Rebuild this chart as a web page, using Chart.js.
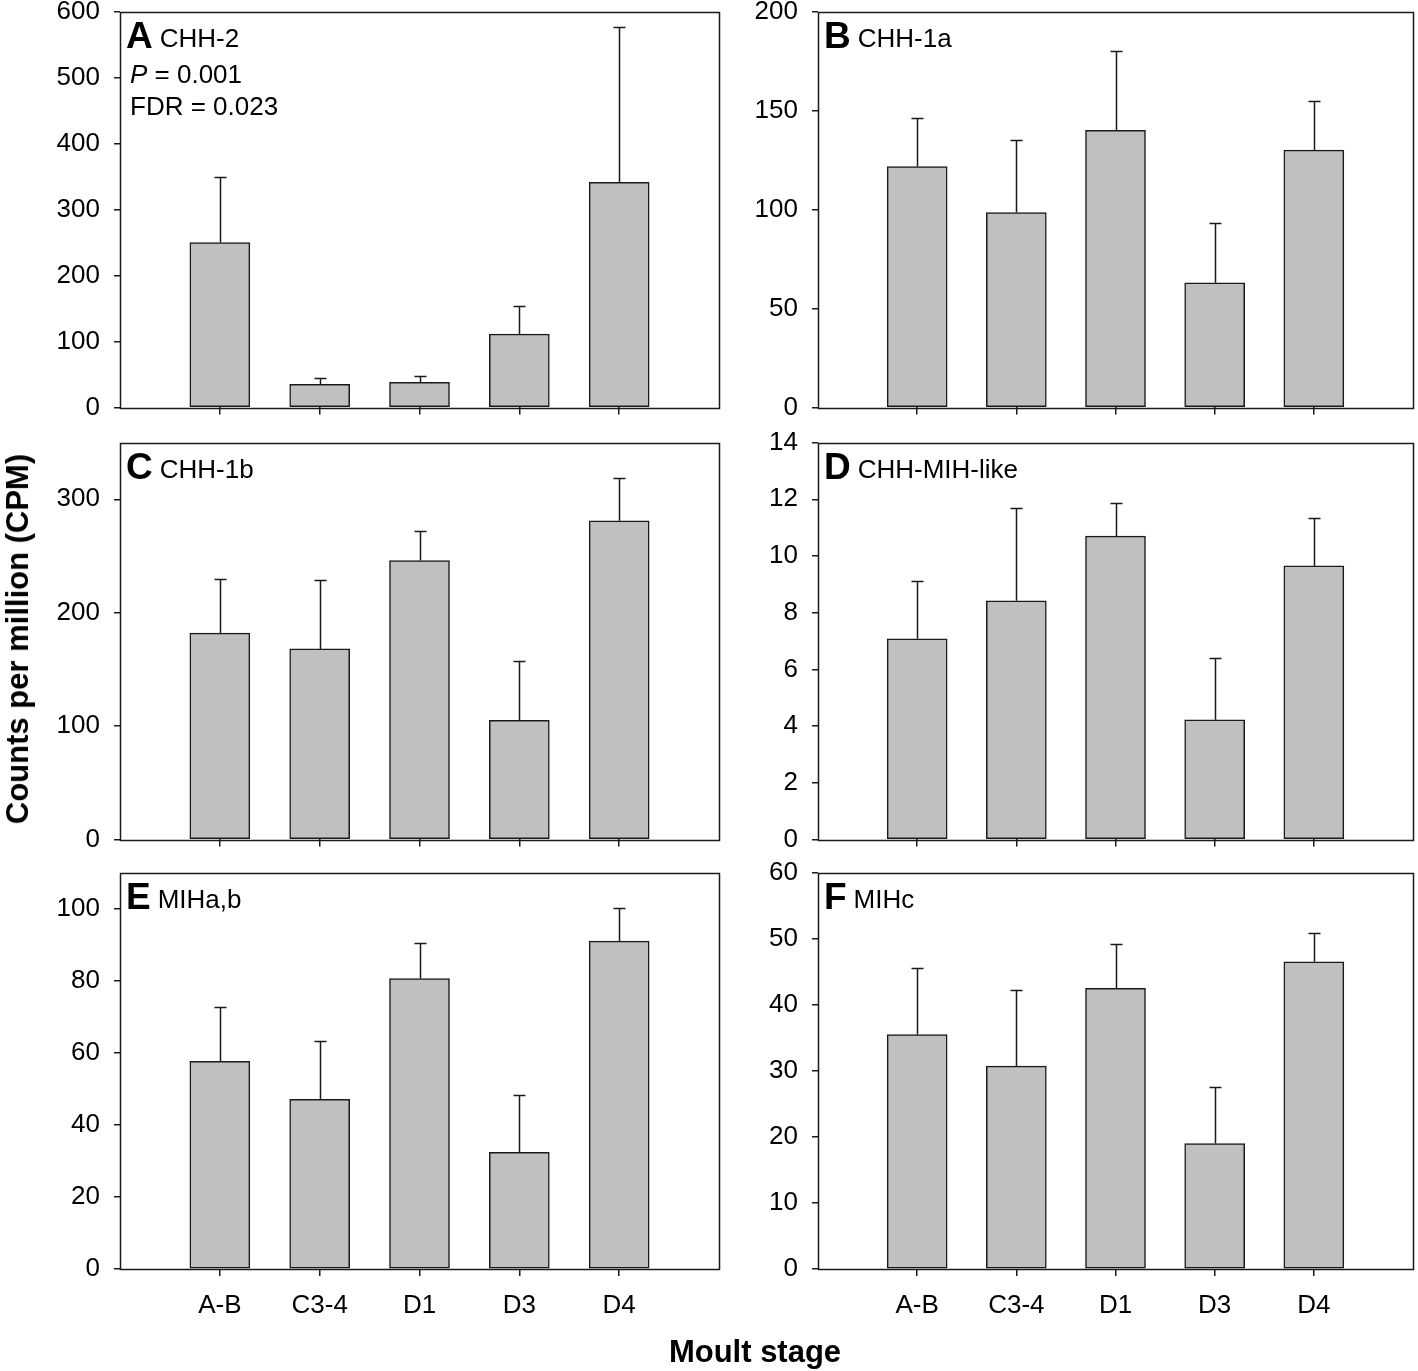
<!DOCTYPE html>
<html>
<head>
<meta charset="utf-8">
<script src="https://cdn.jsdelivr.net/npm/chart.js@4.4.1/dist/chart.umd.min.js"></script>
<style>
  body { margin: 0; background: #fff; }
  #wrap { position: relative; width: 1418px; height: 1371px; overflow: hidden; font-family: "Liberation Sans", Arial, sans-serif; }
  #wrap canvas { position: absolute; }
  .ytitle { position: absolute; left: 18px; top: 639px; transform: translate(-50%, -50%) rotate(-90deg); white-space: nowrap; font-weight: bold; font-size: 31px; color: #000; }
  .xtitle { position: absolute; left: 755px; top: 1352px; transform: translate(-50%, -50%); white-space: nowrap; font-weight: bold; font-size: 31px; color: #000; }
</style>
</head>
<body>
<div id="wrap">
  <canvas id="cA"></canvas>
  <canvas id="cB"></canvas>
  <canvas id="cC"></canvas>
  <canvas id="cD"></canvas>
  <canvas id="cE"></canvas>
  <canvas id="cF"></canvas>
  <div class="ytitle">Counts per million (CPM)</div>
  <div class="xtitle">Moult stage</div>
</div>
<script>
// moult stages along the x axis
const stages = ['A-B', 'C3-4', 'D1', 'D3', 'D4'];

// mean CPM per stage and the upper error (SE)
const meanA = [250, 35, 38, 111, 341];
const errA  = [100, 9, 10, 42, 236];
const meanB = [121.7, 98.5, 140, 63, 130];
const errB  = [24.3, 36.5, 40, 30, 25];
const meanC = [182, 168, 246, 105, 281];
const errC  = [48, 61, 26, 52, 38];
const meanD = [7.08, 8.42, 10.7, 4.22, 9.65];
const errD  = [2.05, 3.27, 1.16, 2.18, 1.68];
const meanE = [57.6, 47.1, 80.6, 32.4, 91.0];
const errE  = [15.0, 16.3, 10.0, 15.8, 9.3];
const meanF = [35.5, 30.7, 42.5, 19.0, 46.5];
const errF  = [10.1, 11.5, 6.7, 8.6, 4.3];

// y axis ranges
const yMaxes = { A: 600, B: 200, C: 350, D: 14, E: 110, F: 60 };
const ySteps = { A: 100, B: 50, C: 100, D: 2, E: 20, F: 10 };

const FONT = '"Liberation Sans", Arial, sans-serif';
const INK = '#1a1a1a';

// bar value + upper error whisker
const errorBars = {
  id: 'errorBars',
  afterDatasetsDraw(chart) {
    const errs = chart.options.plugins.errorBars.errs;
    const meta = chart.getDatasetMeta(0);
    const y = chart.scales.y;
    const c = chart.ctx;
    c.save();
    c.strokeStyle = INK;
    c.lineWidth = 1.5;
    meta.data.forEach((bar, i) => {
      const v = chart.data.datasets[0].data[i].y;
      const top = Math.round(y.getPixelForValue(v + errs[i])) + 0.5;
      const x = Math.round(bar.x) + 0.5;
      c.beginPath();
      c.moveTo(x, bar.y);
      c.lineTo(x, top);
      c.moveTo(x - 6, top);
      c.lineTo(x + 6, top);
      c.stroke();
    });
    c.restore();
  }
};

// frame round the plot area + panel letter and gene name
const frameAndLabels = {
  id: 'frameAndLabels',
  afterDraw(chart) {
    const o = chart.options.plugins.frameAndLabels;
    const a = chart.chartArea;
    const c = chart.ctx;
    c.save();
    c.strokeStyle = INK;
    c.lineWidth = 1.5;
    c.strokeRect(Math.round(a.left) + 0.5, Math.round(a.top) + 0.5, Math.round(a.right - a.left), Math.round(a.bottom - a.top));
    c.fillStyle = '#000';
    c.textBaseline = 'alphabetic';
    c.font = 'bold 37px ' + FONT;
    c.fillText(o.letter, a.left + 6, a.top + 36);
    const w = c.measureText(o.letter).width;
    c.font = '26px ' + FONT;
    c.fillText(o.name, a.left + 6 + w + 7, a.top + 35);
    if (o.extra) {
      c.font = 'italic 26px ' + FONT;
      c.fillText('P', a.left + 10, a.top + 71);
      const pw = c.measureText('P').width;
      c.font = '26px ' + FONT;
      c.fillText(' = 0.001', a.left + 10 + pw, a.top + 71);
      c.fillText('FDR = 0.023', a.left + 10, a.top + 103);
    }
    c.restore();
  }
};

function buildConfig(letter, name, means, errs, g) {
  return {
    type: 'bar',
    data: {
      datasets: [{
        data: means.map((m, i) => ({ x: i + 1, y: m })),
        backgroundColor: '#c0c0c0',
        borderColor: INK,
        borderWidth: 1.5,
        borderSkipped: false,
        barThickness: 60
      }]
    },
    options: {
      responsive: false,
      animation: false,
      devicePixelRatio: 1,
      layout: { padding: 0 },
      scales: {
        x: {
          type: 'linear',
          min: 0,
          max: 6,
          offset: false,
          border: { display: false },
          grid: {
            drawOnChartArea: false,
            offset: false,
            tickLength: 7,
            lineWidth: 1.5,
            color: ctx => (ctx.tick && ctx.tick.value >= 1 && ctx.tick.value <= 5) ? INK : 'rgba(0,0,0,0)'
          },
          ticks: {
            stepSize: 1,
            autoSkip: false,
            maxRotation: 0,
            padding: 14,
            color: '#000',
            font: { family: FONT, size: 26 },
            callback: v => g.showX ? (stages[v - 1] || '') : ''
          },
          afterFit: s => { s.height = g.xHeight; }
        },
        y: {
          min: 0,
          max: yMaxes[letter],
          border: { display: false },
          grid: { drawOnChartArea: false, tickLength: 6, lineWidth: 1.5, color: INK },
          ticks: {
            stepSize: ySteps[letter],
            includeBounds: false,
            padding: 14,
            color: '#000',
            font: { family: FONT, size: 26 }
          },
          afterFit: s => { s.width = g.yWidth; }
        }
      },
      plugins: {
        legend: { display: false },
        tooltip: { enabled: false },
        errorBars: { errs: errs },
        frameAndLabels: { letter: letter, name: name, extra: letter === 'A' }
      }
    },
    plugins: [errorBars, frameAndLabels]
  };
}

// draw once, see where the plot area landed, then move/resize the canvas so it sits on the target box
function makePanel(id, letter, name, means, errs, g) {
  const el = document.getElementById(id);
  el.width = g.width;
  el.height = g.height;
  let chart = new Chart(el.getContext('2d'), buildConfig(letter, name, means, errs, g));
  const a = chart.chartArea;
  const newW = g.width + ((g.plotRight - g.plotLeft) - (a.right - a.left));
  const newH = g.height + ((g.plotBottom - g.plotTop) - (a.bottom - a.top));
  const dx = a.left, dy = a.top;
  chart.destroy();
  el.width = newW;
  el.height = newH;
  el.style.left = (g.plotLeft - dx) + 'px';
  el.style.top = (g.plotTop - dy) + 'px';
  chart = new Chart(el.getContext('2d'), buildConfig(letter, name, means, errs, g));
  return chart;
}

// panel plot boxes
const colLefts = [120, 818];
const colRights = [719, 1413];
const rowTops = [12, 443, 873];
const rowBottoms = [408, 840, 1270];

function geom(col, row) {
  return {
    plotLeft: colLefts[col],
    plotRight: colRights[col],
    plotTop: rowTops[row],
    plotBottom: rowBottoms[row],
    width: 720,
    height: 480,
    yWidth: col === 0 ? 120 : 98,
    xHeight: row === 2 ? 70 : 12,
    showX: row === 2
  };
}

makePanel('cA', 'A', 'CHH-2', meanA, errA, geom(0, 0));
makePanel('cB', 'B', 'CHH-1a', meanB, errB, geom(1, 0));
makePanel('cC', 'C', 'CHH-1b', meanC, errC, geom(0, 1));
makePanel('cD', 'D', 'CHH-MIH-like', meanD, errD, geom(1, 1));
makePanel('cE', 'E', 'MIHa,b', meanE, errE, geom(0, 2));
makePanel('cF', 'F', 'MIHc', meanF, errF, geom(1, 2));
</script>
</body>
</html>
